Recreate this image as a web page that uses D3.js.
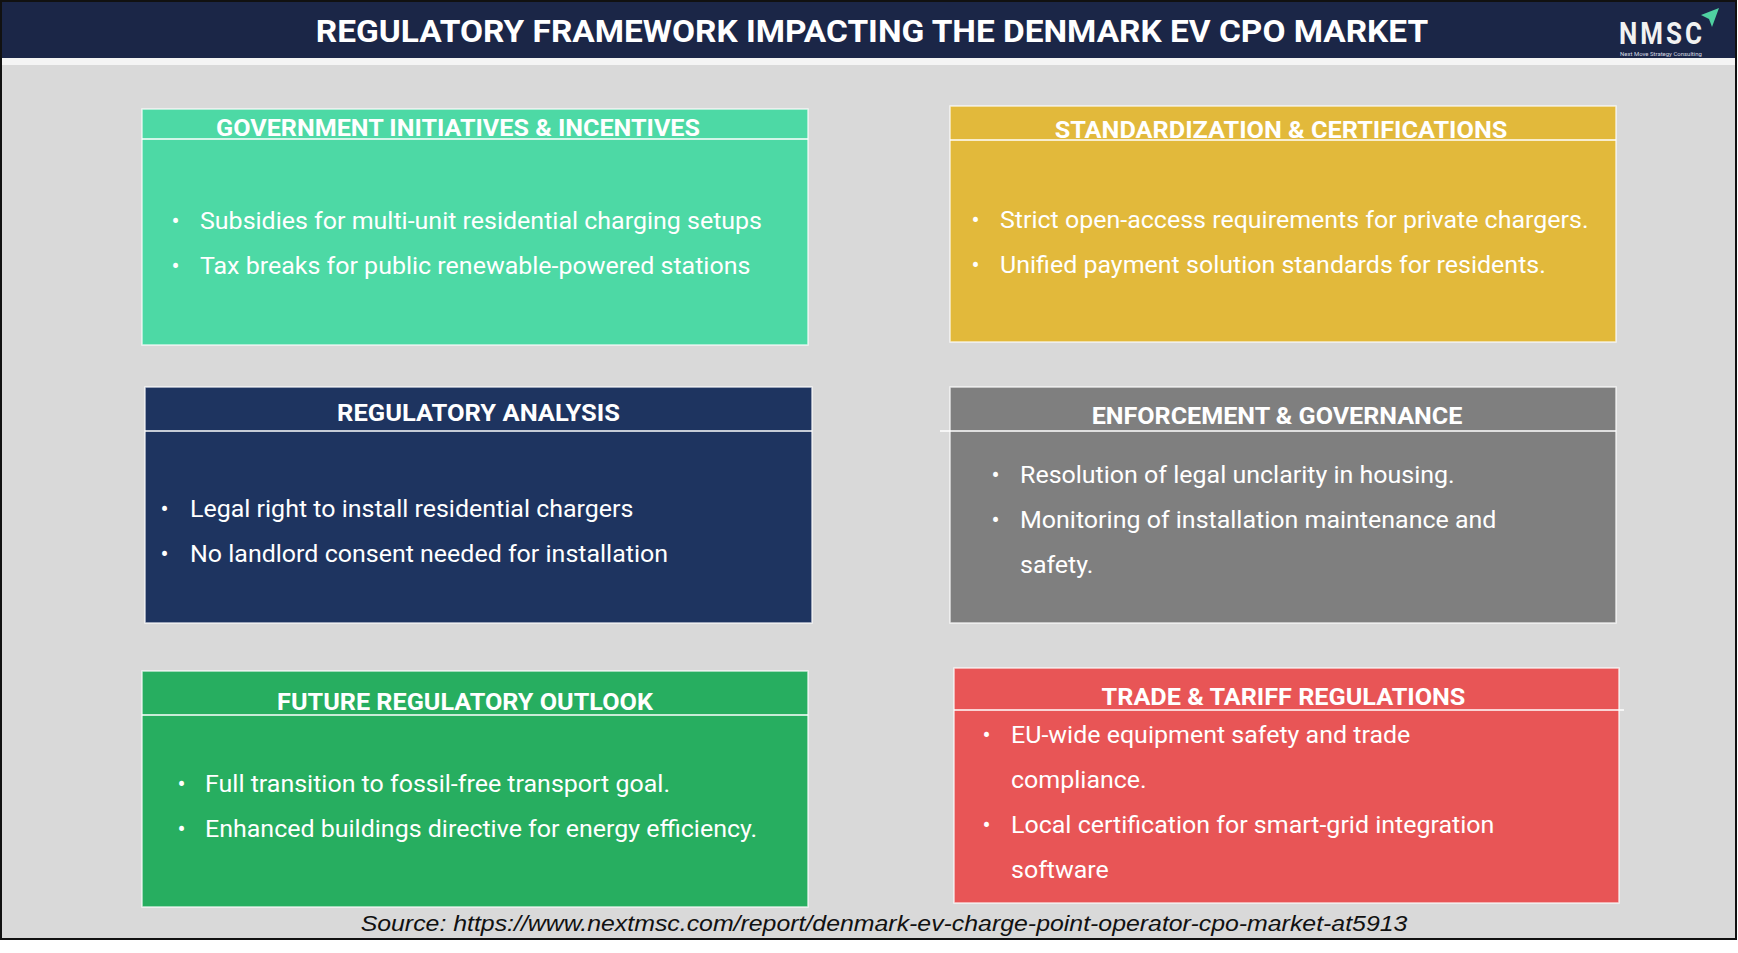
<!DOCTYPE html>
<html><head><meta charset="utf-8">
<script src="https://cdn.jsdelivr.net/npm/d3@7"></script>
<style>html,body{margin:0;padding:0;background:#fff;}svg{display:block;}</style>
</head><body>
<svg id="chart" width="1738" height="953"></svg>
<script>
// ---- DATA ----
const chartTitle = "REGULATORY FRAMEWORK IMPACTING THE DENMARK EV CPO MARKET";
const panelTitles = [
  "GOVERNMENT INITIATIVES & INCENTIVES",
  "STANDARDIZATION & CERTIFICATIONS",
  "REGULATORY ANALYSIS",
  "ENFORCEMENT & GOVERNANCE",
  "FUTURE REGULATORY OUTLOOK",
  "TRADE & TARIFF REGULATIONS"
];
const panelBullets = [
  [["Subsidies for multi-unit residential charging setups"], ["Tax breaks for public renewable-powered stations"]],
  [["Strict open-access requirements for private chargers."], ["Unified payment solution standards for residents."]],
  [["Legal right to install residential chargers"], ["No landlord consent needed for installation"]],
  [["Resolution of legal unclarity in housing."], ["Monitoring of installation maintenance and", "safety."]],
  [["Full transition to fossil-free transport goal."], ["Enhanced buildings directive for energy efficiency."]],
  [["EU-wide equipment safety and trade", "compliance."], ["Local certification for smart-grid integration", "software"]]
];
const sourceText = "Source: https://www.nextmsc.com/report/denmark-ev-charge-point-operator-cpo-market-at5913";
const logoText = "NMSC";
const logoSub = "Next Move Strategy Consulting";

// ---- STYLE / LAYOUT ----
const panelColors = ["#4dd9a5", "#e2b93b", "#1e3460", "#7f7f7f", "#27ae60", "#e85556"];
const layout = [
  {x:142, y:109, w:666, h:236, line:139, ty:135.5, tw:484, tdx:-17, bx:171.5, tx:200, by:228.5, lx0:0, lx1:0},
  {x:950, y:106, w:666, h:236, line:140, ty:138, tw:453, tdx:-2, bx:971.5, tx:1000, by:227.5, lx0:0, lx1:0},
  {x:145, y:387, w:667, h:236, line:431, ty:420.5, tw:283, tdx:0, bx:160.5, tx:190, by:516.5, lx0:0, lx1:0},
  {x:950, y:387, w:666, h:236, line:431, ty:423.5, tw:371, tdx:-6, bx:991.5, tx:1020, by:482.5, lx0:-10, lx1:0},
  {x:142, y:671, w:666, h:236, line:715, ty:709.5, tw:376, tdx:-10, bx:177.5, tx:205, by:791.5, lx0:0, lx1:0},
  {x:954, y:668, w:665, h:235, line:710, ty:704.5, tw:364, tdx:-3, bx:982.5, tx:1011, by:742.5, lx0:0, lx1:5}
];
const lineStep = 45;
const bodyFont = "Roboto, 'Noto Sans', sans-serif";

const svg = d3.select("#chart");
// background
svg.append("rect").attr("x",1).attr("y",1).attr("width",1735).attr("height",938)
  .attr("fill","#d9d9d9").attr("stroke","#111").attr("stroke-width",2);
svg.append("rect").attr("x",2).attr("y",58).attr("width",1733).attr("height",7).attr("fill","#f4f4f4");
svg.append("rect").attr("x",2).attr("y",2).attr("width",1733).attr("height",56).attr("fill","#1b2647");

function placeScaled(parent, x, y, txt, opts, targetW, fixedScale, sy) {
  const g = parent.append("g");
  const t = g.append("text").text(txt)
    .attr("font-family", opts.family || bodyFont)
    .attr("font-size", opts.size)
    .attr("font-weight", opts.weight || "normal")
    .attr("font-style", opts.style || "normal")
    .attr("letter-spacing", opts.ls || 0)
    .attr("fill", opts.fill || "#fff")
    .attr("text-anchor", opts.anchor || "start");
  const s = fixedScale != null ? fixedScale : targetW / t.node().getComputedTextLength();
  g.attr("transform", `translate(${x},${y}) scale(${s},${sy || 1})`);
  return s;
}

// header title
placeScaled(svg, 872, 42, chartTitle, {size:31, weight:"bold", anchor:"middle"}, 1113);

// logo
const lg = svg.append("g");
placeScaled(lg, 1662, 44, logoText, {size:26, weight:"bold", anchor:"middle", fill:"#f2f2f2", ls:3}, 86, null, 1.2);
placeScaled(lg, 1661, 56, logoSub, {size:5.5, anchor:"middle", fill:"#d8dbe5"}, 82);
lg.append("path").attr("d","M1701,15 L1719,8 L1712,27 L1709,19 Z").attr("fill","#4fd1a1");

// body text scale from first reference line
let bodyScale;
{
  const tmp = svg.append("text").text(panelBullets[0][0][0]).attr("font-family", bodyFont).attr("font-size", 23.5);
  bodyScale = 562 / tmp.node().getComputedTextLength();
  tmp.remove();
}

panelTitles.forEach((title, i) => {
  const L = layout[i];
  const g = svg.append("g");
  g.append("rect").attr("x", L.x).attr("y", L.y).attr("width", L.w).attr("height", L.h)
    .attr("fill", panelColors[i]).attr("stroke", "rgba(255,255,255,0.75)").attr("stroke-width", 1.5);
  g.append("line").attr("x1", L.x + L.lx0).attr("x2", L.x + L.w + L.lx1)
    .attr("y1", L.line).attr("y2", L.line).attr("stroke", "#ffffff").attr("stroke-width", 1.3);
  placeScaled(g, L.x + L.w/2 + L.tdx, L.ty, title, {size:24.5, weight:"bold", anchor:"middle"}, L.tw);
  let row = 0;
  panelBullets[i].forEach(item => {
    item.forEach((ln, k) => {
      const y = L.by + row * lineStep;
      if (k === 0) placeScaled(g, L.bx, y, "\u2022", {size:24}, 0, 1);
      placeScaled(g, L.tx, y, ln, {size:23.5}, 0, bodyScale);
      row++;
    });
  });
});

// source
placeScaled(svg, 884, 931, sourceText, {size:22, style:"italic", anchor:"middle", fill:"#111", family:"'Liberation Sans', Arial, sans-serif"}, 1047);
</script>
</body></html>
